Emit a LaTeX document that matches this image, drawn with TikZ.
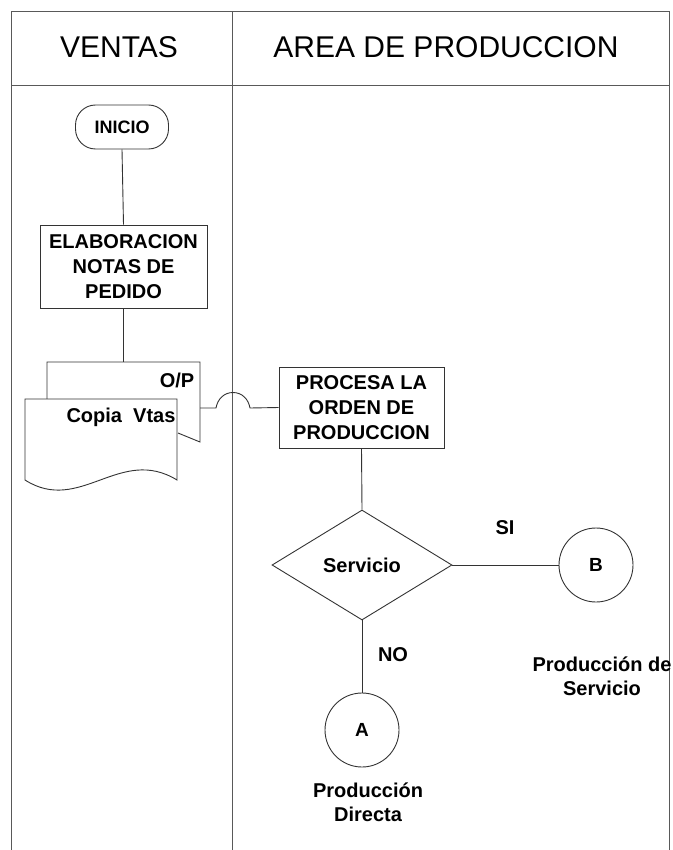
\documentclass[tikz,border=0pt]{standalone}
\usepackage{fontspec}
\setmainfont{Liberation Sans}
\usetikzlibrary{shapes.geometric}
\begin{document}
\begin{tikzpicture}[x=1pt,y=-1pt,
  frame/.style={draw=black!65, line width=1pt},
  line/.style={draw=black!80, line width=0.9pt},
  boxtxt/.style={font=\fontsize{20}{25}\selectfont\bfseries, align=center},
  lbl/.style={font=\fontsize{20}{24}\selectfont\bfseries, align=center, inner sep=0},
  hdr/.style={font=\fontsize{30}{36}\selectfont, inner sep=0},
  procbox/.style={line, rectangle, inner sep=0, boxtxt},
  conn/.style={line, circle, minimum size=74pt, inner sep=0, font=\fontsize{19}{22}\selectfont\bfseries}
]
\useasboundingbox (0,0) rectangle (672,850);
% frame
\draw[frame] (11,850) -- (11,12) -- (669,12) -- (669,850);
\draw[frame] (11,86) -- (669,86);
\draw[frame] (232,12) -- (232,850);
\node[hdr] (hv) at (119,47) {VENTAS};
\node[hdr] (hp) at (446,47) {AREA DE PRODUCCION};

% start
\node[line, rectangle, rounded corners=20pt, minimum width=93pt, minimum height=44pt, inner sep=0,
      font=\fontsize{18}{22}\selectfont\bfseries] (ini) at (122,127) {INICIO};
\node[procbox, minimum width=167pt, minimum height=83pt] (elab) at (123.5,266.5)
  {ELABORACION\\NOTAS DE\\PEDIDO};
\draw[line] (ini.south) -- (elab.north);

% document stack
\coordinate (dtop) at (123.5,362);
\draw[line] (elab.south) -- (dtop);
\draw[line] (178,433) -- (200,442) -- (200,362) -- (47,362) -- (47,399);
\draw[line, fill=white] (25,399) -- (177,399) -- (177,480)
   .. controls (120,445) and (80,515) .. (25,480) -- cycle;
\node[lbl] (op) at (177,380) {O/P};
\node[lbl] (copia) at (121,417) {Copia\ \ Vtas};
\coordinate (dout) at (200,408);

% process
\node[procbox, minimum width=165pt, minimum height=81pt] (proc) at (361.5,407.5)
  {PROCESA LA\\ORDEN DE\\PRODUCCION};
\draw[line] (dout) -- (216,408) to[out=80,in=180] (233,392.5) to[out=0,in=100] (250,408) -- (proc.west);

% decision
\node[line, diamond, minimum width=180pt, minimum height=110pt, inner sep=0, lbl] (dec) at (362,565) {Servicio};
\draw[line] (proc.south) -- (dec.north);
\node[conn] (B) at (596,565) {B};
\node[conn] (A) at (362,730) {A};
\draw[line] (dec.east) -- (B.west);
\draw[line] (dec.south) -- (A.north);
\node[lbl] (si) at (505,528) {SI};
\node[lbl] (no) at (393,655) {NO};
\node[lbl] (pb) at (602,676) {Producción de\\Servicio};
\node[lbl] (pa) at (368,802) {Producción\\Directa};
\end{tikzpicture}
\end{document}
